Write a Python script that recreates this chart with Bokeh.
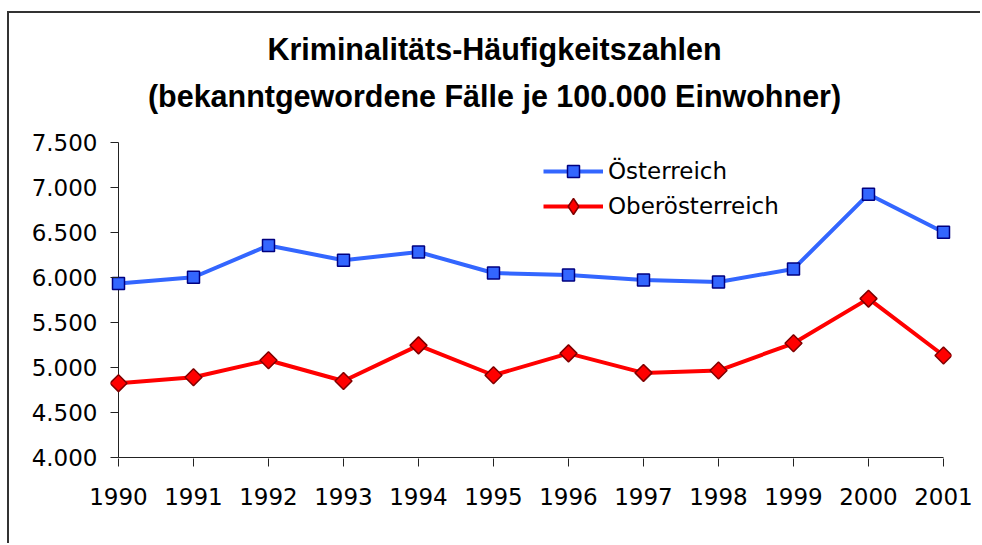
import numpy as np
from bokeh.plotting import figure
from bokeh.models import (Range1d, FixedTicker, CustomJSTickFormatter, Label,
                          Legend, LegendItem)
from bokeh.embed import file_html
from bokeh.resources import INLINE

# ---- data ----
years = [1990, 1991, 1992, 1993, 1994, 1995, 1996, 1997, 1998, 1999, 2000, 2001]
oesterreich = [5933, 6003, 6356, 6192, 6283, 6050, 6027, 5972, 5950, 6095, 6926, 6502]
oberoesterreich = [4826, 4892, 5081, 4850, 5246, 4914, 5157, 4940, 4966, 5269, 5765, 5133]
y_ticks = [4000, 4500, 5000, 5500, 6000, 6500, 7000, 7500]
title_lines = ["Kriminalitäts-Häufigkeitszahlen",
               "(bekanntgewordene Fälle je 100.000 Einwohner)"]
series_names = ["Österreich", "Oberösterreich"]

FONT = "DejaVu Sans"
TITLE_FONT = "Liberation Sans"

PX_X = 75.0     # pixels per year
PX_Y = 0.09     # pixels per unit
FRAME_H = 445   # frame height in pixels (title area included)

x_pad = 8 / PX_X
y_start = y_ticks[0] - 1 / PX_Y
y_end = y_start + FRAME_H / PX_Y

p = figure(width=973, height=532, output_backend="svg", toolbar_location=None,
           x_range=Range1d(years[0] - x_pad, years[-1] + x_pad),
           y_range=Range1d(y_start, y_end),
           min_border_left=101, min_border_right=31, min_border_top=0,
           min_border_bottom=87)
p.styles = {"margin-top": "11px", "margin-left": "7px",
            "border-top": "2px solid #333333", "border-left": "2px solid #333333"}
p.outline_line_color = None
p.grid.visible = False
p.background_fill_color = "white"
p.border_fill_color = "white"

# axes
xa = p.xaxis[0]
xa.ticker = FixedTicker(ticks=years)
xa.formatter = CustomJSTickFormatter(code="return Math.round(tick).toString();")
xa.axis_line_color = None
xa.major_tick_in = 0
xa.major_tick_out = 8
xa.major_tick_line_color = "#222222"
xa.minor_tick_line_color = None
xa.major_label_text_font = FONT
xa.major_label_text_font_size = "23px"
xa.major_label_text_color = "black"
xa.major_label_standoff = 21

ya = p.yaxis[0]
ya.ticker = FixedTicker(ticks=y_ticks)
ya.formatter = CustomJSTickFormatter(
    code="return Math.round(tick).toString().replace(/\\B(?=(\\d{3})+(?!\\d))/g, '.');")
ya.axis_line_color = None
ya.major_tick_in = 8
ya.major_tick_out = 0
ya.major_tick_line_color = "#222222"
ya.minor_tick_line_color = None
ya.major_label_text_font = FONT
ya.major_label_text_font_size = "23px"
ya.major_label_text_color = "black"
ya.major_label_standoff = 13

# axis lines spanning the data extent
p.segment(x0=[years[0]], y0=[y_ticks[0]], x1=[years[0]], y1=[y_ticks[-1]],
          line_color="#222222", line_width=1)
p.segment(x0=[years[0]], y0=[y_ticks[0]], x1=[years[-1]], y1=[y_ticks[0]],
          line_color="#222222", line_width=1)

# series
l1 = p.line(years, oesterreich, line_color="#3366FF", line_width=4)
s1 = p.scatter(years, oesterreich, marker="square", size=12,
               fill_color="#3366FF", line_color="#000080", line_width=1.5)
l2 = p.line(years, oberoesterreich, line_color="#FF0000", line_width=4)
# diamond renderer used as the legend key (legend ignores marker rotation);
# it lies completely beneath the rotated squares drawn after it
s2_key = p.scatter(years, oberoesterreich, marker="diamond", size=12,
                   fill_color="#FF0000", line_color="#800000", line_width=1.5)
s2 = p.scatter(years, oberoesterreich, marker="square", size=12, angle=np.pi / 4,
               fill_color="#FF0000", line_color="#800000", line_width=1.5)

legend_style = dict(orientation="vertical", glyph_width=60, label_standoff=5,
                    padding=0, margin=0, spacing=0,
                    border_line_color=None, background_fill_alpha=0,
                    label_text_font=FONT, label_text_font_size="23px",
                    label_text_color="black")
legend1 = Legend(items=[LegendItem(label=series_names[0], renderers=[l1, s1])],
                 location=(433, 272), glyph_height=30, label_height=30,
                 **legend_style)
legend2 = Legend(items=[LegendItem(label=series_names[1], renderers=[l2, s2_key])],
                 location=(433, 232), glyph_height=40, label_height=40,
                 **legend_style)
p.add_layout(legend1)
p.add_layout(legend2)

# title (two centred lines), placed in the upper, tick-free part of the frame
def y_at(page_y):
    return y_start + (458 - page_y) / PX_Y

title_x = years[0] + (494 - 118) / PX_X
for line_text, base_y in zip(title_lines, [48, 95]):
    p.add_layout(Label(x=title_x, y=y_at(base_y), text=line_text,
                       text_align="center", text_baseline="alphabetic",
                       text_font=TITLE_FONT, text_font_style="bold",
                       text_font_size="30.5px", text_color="black"))

open("out.html", "w").write(file_html(p, INLINE))
